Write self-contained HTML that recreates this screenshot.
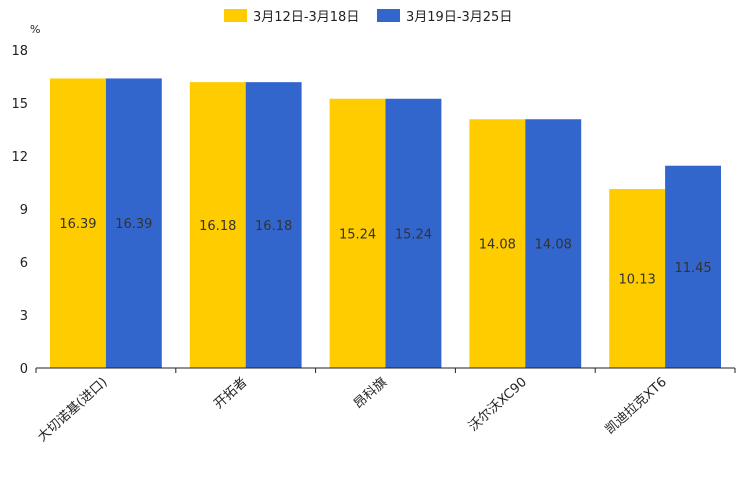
<!DOCTYPE html>
<html><head><meta charset="utf-8"><style>
body{margin:0;background:#fff}
svg{display:block;font-family:"DejaVu Sans","Noto Sans CJK SC",sans-serif}
</style></head><body>
<svg id="c" width="744" height="496">
<g>
<rect x="224" y="9" width="23" height="13" fill="#ffcc00"/>
<text x="253" y="21" font-size="13" fill="#222">3月12日-3月18日</text>
<rect x="377" y="9" width="23" height="13" fill="#3366cc"/>
<text x="406" y="21" font-size="13" fill="#222">3月19日-3月25日</text>
</g>
<text x="30" y="33" font-size="11" fill="#222">%</text>
</svg>
<script>
const categories=["大切诺基(进口)","开拓者","昂科旗","沃尔沃XC90","凯迪拉克XT6"];
const series1=[16.39,16.18,15.24,14.08,10.13];
const series2=[16.39,16.18,15.24,14.08,11.45];
const yTicks=[0,3,6,9,12,15,18];
const svg=document.getElementById('c');
const NS='http://www.w3.org/2000/svg';
const x0=36,x1=735,y0=368,yTop=50,yMax=18;
const y=v=>y0-(v/yMax)*(y0-yTop);
const bw=(x1-x0)/categories.length;
function mk(t,a,txt){const e=document.createElementNS(NS,t);for(const k in a)e.setAttribute(k,a[k]);if(txt!=null)e.textContent=txt;svg.appendChild(e);return e;}
yTicks.forEach(t=>{
const e=mk('text',{x:28,y:y(t)+5,'text-anchor':'end','font-size':13,fill:'#222'},t);


});
categories.forEach((c,i)=>{
const gx=x0+i*bw,pad=14,w=(bw-2*pad)/2;
[[series1[i],'#ffcc00',0],[series2[i],'#3366cc',1]].forEach(([v,col,k])=>{
const bx=gx+pad+k*w;
const r=mk('rect',{x:bx,y:y(v),width:w,height:y0-y(v),fill:col});


const l=mk('text',{x:bx+w/2,y:(y(v)+y0)/2+5,'text-anchor':'middle','font-size':13,fill:'#333'},v.toFixed(2));


});
const cx=gx+bw/2;
const l=mk('text',{x:cx+2,y:383,'text-anchor':'end','font-size':13,fill:'#222',transform:`rotate(-42 ${cx+2} 383)`},c);


});
for(let i=0;i<=categories.length;i++){
const tx=x0+i*bw;
const t=mk('line',{x1:tx,x2:tx,y1:y0,y2:y0+5,stroke:'#222'});


}
const ax=mk('line',{x1:x0,x2:x1,y1:y0,y2:y0,stroke:'#222'});


</script>
</body></html>
